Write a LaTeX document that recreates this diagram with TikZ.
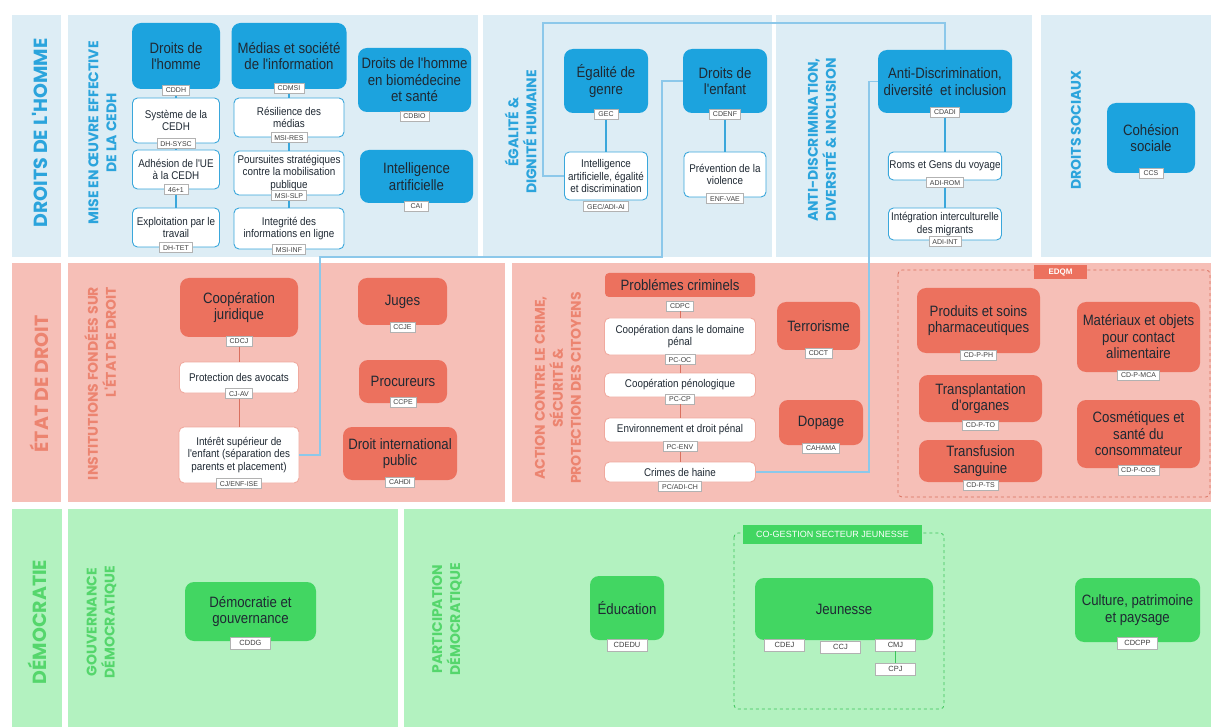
\documentclass[tikz,border=0pt]{standalone}
\usepackage{fontspec}
\setmainfont{Liberation Sans}
\newfontfamily\narrowfont{Liberation Sans}[FakeStretch=0.88]
\newfontfamily\headfont{Poppins}
\usepackage{xcolor}
\usepackage{tikz}
\usetikzlibrary{positioning}
\definecolor{blubg}{HTML}{DDEDF5}
\definecolor{blubox}{HTML}{1CA3DE}
\definecolor{bluline}{HTML}{3AA7DB}
\definecolor{blulong}{HTML}{8CC8EA}
\definecolor{blutxt}{HTML}{2BA4DC}
\definecolor{redbg}{HTML}{F6BFB7}
\definecolor{redbox}{HTML}{EC715E}
\definecolor{redline}{HTML}{D9705F}
\definecolor{redpale}{HTML}{F0A99E}
\definecolor{redtxt}{HTML}{EC8470}
\definecolor{grnbg}{HTML}{B3F2C0}
\definecolor{grnbox}{HTML}{42D662}
\definecolor{grnline}{HTML}{3CC45A}
\definecolor{grntxt}{HTML}{55D66C}
\definecolor{boxtxt}{HTML}{1F2933}
\begin{document}
\begin{tikzpicture}
  [x=1pt,y=-1pt,
   every node/.style={align=center,inner sep=1pt},
   wh/.style 2 args={minimum width=#1pt,minimum height=#2pt},
   bigbox/.style={rounded corners=9pt,fill=#1,text=boxtxt,font=\narrowfont\fontsize{15}{16.5}\selectfont},
   bbox/.style={bigbox=blubox},
   rbox/.style={bigbox=redbox},
   gbox/.style={bigbox=grnbox},
   wbox/.style={rounded corners=5pt,fill=white,draw=#1,line width=.9pt,text=boxtxt,font=\narrowfont\fontsize{11.2}{12.3}\selectfont},
   tag/.style={fill=white,draw=black!30,line width=.4pt,text=black!75,font=\fontsize{7}{8}\selectfont,minimum width=24pt,minimum height=10pt,inner xsep=3.5pt,inner ysep=0pt},
   gtag/.style={tag,minimum width=40pt,minimum height=12pt,font=\fontsize{7.5}{8}\selectfont},
   banner/.style={fill=#1,text=white,font=\fontsize{9}{10}\selectfont},
   sec/.style={rotate=90,text=#1,font=\headfont\bfseries\fontsize{19}{22}\selectfont},
   subsec/.style={rotate=90,text=#1,font=\headfont\bfseries\fontsize{14}{18}\selectfont},
   link/.style={draw=#1,line width=1.6pt},
   longlink/.style={draw=blulong,line width=1.3pt},
   zone/.style={draw=#1,dashed,line width=.8pt,rounded corners=4pt}]
  \useasboundingbox (0,0) rectangle (1213,727);
  \foreach \xa/\xb in {12/61,68/478,483/772,776/1032,1041/1211}
    \fill[blubg] (\xa,15) rectangle (\xb,257);
  \foreach \xa/\xb in {12/61,68/505,512/1211}
    \fill[redbg] (\xa,263) rectangle (\xb,502);
  \foreach \xa/\xb in {12/62,68/398,404/1211}
    \fill[grnbg] (\xa,509) rectangle (\xb,727);

  \node[sec=blutxt] (hdh) at (40,133) {DROITS DE L'HOMME};
  \node[subsec=blutxt] (hcedh) at (102.5,133) {MISE EN ŒUVRE EFFECTIVE\\DE LA CEDH};
  \node[subsec=blutxt] (hegal) at (520.5,132) {ÉGALITÉ \&\\DIGNITÉ HUMAINE};
  \node[subsec=blutxt] (hadi) at (822,140) {ANTI-DISCRIMINATION,\\DIVERSITÉ \& INCLUSION};
  \node[subsec=blutxt] (hsoc) at (1076,130) {DROITS SOCIAUX};
  \node[sec=redtxt] (hetat) at (39,384) {ÉTAT DE DROIT};
  \node[subsec=redtxt,align=right] (hinst) at (100,383.5) {INSTITUTIONS FONDÉES SUR\\L'ÉTAT DE DROIT};
  \node[subsec=redtxt] (hcrime) at (558,388) {ACTION CONTRE LE CRIME,\\SÉCURITÉ \&\\PROTECTION DES CITOYENS};
  \node[sec=grntxt] (hdemo) at (37,622) {DÉMOCRATIE};
  \node[subsec=grntxt] (hgouv) at (101.5,622) {GOUVERNANCE\\DÉMOCRATIQUE};
  \node[subsec=grntxt] (hpart) at (447,619) {PARTICIPATION\\DÉMOCRATIQUE};

  \node[bbox,wh={88}{66}] (cddh) at (176,56) {Droits de\\l'homme};
  \node[tag,below=-4pt of cddh] (tcddh) {CDDH};
  \node[wbox=bluline,wh={87}{45}] (dhsysc) at (176,120.5) {Système de la\\CEDH};
  \node[tag,below=-5pt of dhsysc] (tdhsysc) {DH-SYSC};
  \node[wbox=bluline,wh={87}{39}] (dh46) at (176,169.5) {Adhésion de l'UE\\à la CEDH};
  \node[tag,below=-5pt of dh46] (tdh46) {46+1};
  \node[wbox=bluline,wh={87}{39}] (dhtet) at (176,227.5) {Exploitation par le\\travail};
  \node[tag,below=-5pt of dhtet] (tdhtet) {DH-TET};

  \node[bbox,wh={115}{66}] (cdmsi) at (289,56) {Médias et société\\de l'information};
  \node[tag,below=-6pt of cdmsi] (tcdmsi) {CDMSI};
  \node[wbox=bluline,wh={110}{39}] (msires) at (289,117.5) {Résilience des\\médias};
  \node[tag,below=-5pt of msires] (tmsires) {MSI-RES};
  \node[wbox=bluline,wh={110}{44}] (msislp) at (289,173) {Poursuites stratégiques\\contre la mobilisation\\publique};
  \node[tag,below=-5pt of msislp] (tmsislp) {MSI-SLP};
  \node[wbox=bluline,wh={110}{41}] (msiinf) at (289,228.5) {Integrité des\\informations en ligne};
  \node[tag,below=-5pt of msiinf] (tmsiinf) {MSI-INF};

  \node[bbox,wh={113}{64}] (cdbio) at (414.5,80) {Droits de l'homme\\en biomédecine\\et santé};
  \node[tag,below=-1pt of cdbio] (tcdbio) {CDBIO};
  \node[bbox,wh={113}{53}] (cai) at (416.5,176.5) {Intelligence\\artificielle};
  \node[tag,below=-2pt of cai] (tcai) {CAI};

  \node[bbox,wh={84}{64}] (gec) at (606,81) {Égalité de\\genre};
  \node[tag,below=-4pt of gec] (tgec) {GEC};
  \node[bbox,wh={84}{64}] (cdenf) at (725,81) {Droits de\\l'enfant};
  \node[tag,below=-4pt of cdenf] (tcdenf) {CDENF};
  \node[wbox=bluline,wh={83}{48}] (gecai) at (606,176) {Intelligence\\artificielle, égalité\\et discrimination};
  \node[tag,below=1pt of gecai] (tgecai) {GEC/ADI-AI};
  \node[wbox=bluline,wh={82}{45}] (cdvae) at (725,174.5) {Prévention de la\\violence};
  \node[tag,below=-4pt of cdvae] (tcdvae) {ENF-VAE};

  \node[bbox,wh={134}{63}] (cdadi) at (945,81.5) {Anti-Discrimination,\\diversité\ \ et inclusion};
  \node[tag,below=-6pt of cdadi] (tcdadi) {CDADI};
  \node[wbox=bluline,wh={113}{28}] (adirom) at (945,166) {Roms et Gens du voyage};
  \node[tag,below=-3pt of adirom] (tadirom) {ADI-ROM};
  \node[wbox=bluline,wh={113}{32}] (adiint) at (945,224) {Intégration interculturelle\\des migrants};
  \node[tag,below=-4pt of adiint] (tadiint) {ADI-INT};

  \node[bbox,wh={88}{70}] (ccs) at (1151,138) {Cohésion\\sociale};
  \node[tag,below=-5pt of ccs] (tccs) {CCS};

  \node[rbox,wh={118}{59}] (cdcj) at (239,307.5) {Coopération\\juridique};
  \node[tag,below=-1pt of cdcj] (tcdcj) {CDCJ};
  \node[wbox=redpale,wh={119}{31}] (cjav) at (239,377.5) {Protection des avocats};
  \node[tag,below=-5pt of cjav] (tcjav) {CJ-AV};
  \node[wbox=redpale,wh={120}{56}] (cjise) at (239,455) {Intérêt supérieur de\\l'enfant (séparation des\\parents et placement)};
  \node[tag,below=-5pt of cjise] (tcjise) {CJ/ENF-ISE};

  \node[rbox,wh={89}{47}] (ccje) at (402.5,301.5) {Juges};
  \node[tag,below=-3pt of ccje] (tccje) {CCJE};
  \node[rbox,wh={88}{43}] (ccpe) at (403,381.5) {Procureurs};
  \node[tag,below=-6pt of ccpe] (tccpe) {CCPE};
  \node[rbox,wh={114}{53}] (cahdi) at (400,453.5) {Droit international\\public};
  \node[tag,below=-3pt of cahdi] (tcahdi) {CAHDI};

  \node[rbox,rounded corners=4pt,wh={150}{24}] (cdpc) at (680,285) {Problémes criminels};
  \node[tag,below=3.5pt of cdpc] (tcdpc) {CDPC};
  \node[wbox=redpale,wh={151}{37}] (pcoc) at (680,336.5) {Coopération dans le domaine\\pénal};
  \node[tag,below=-1pt of pcoc] (tpcoc) {PC-OC};
  \node[wbox=redpale,wh={151}{24}] (pccp) at (680,385) {Coopération pénologique};
  \node[tag,below=-3.5pt of pccp] (tpccp) {PC-CP};
  \node[wbox=redpale,wh={151}{24}] (pcenv) at (680,430) {Environnement et droit pénal};
  \node[tag,below=-1pt of pcenv] (tpcenv) {PC-ENV};
  \node[wbox=redpale,wh={151}{20}] (pchaine) at (680,472) {Crimes de haine};
  \node[tag,below=-1pt of pchaine] (tpchaine) {PC/ADI-CH};

  \node[rbox,wh={83}{48}] (cdct) at (818.5,326) {Terrorisme};
  \node[tag,below=-2.5pt of cdct] (tcdct) {CDCT};
  \node[rbox,wh={84}{45}] (cahama) at (821,422.5) {Dopage};
  \node[tag,below=-2.5pt of cahama] (tcahama) {CAHAMA};

  \draw[zone=redline] (898,270) rectangle (1210,497);
  \node[banner=redbox,wh={53}{14},font=\bfseries\fontsize{8}{9}\selectfont] (edqm) at (1060.5,272) {EDQM};
  \node[rbox,wh={123}{65}] (cdpph) at (978.5,320.5) {Produits et soins\\pharmaceutiques};
  \node[tag,below=-3pt of cdpph] (tcdpph) {CD-P-PH};
  \node[rbox,wh={123}{47}] (cdpto) at (980.5,398.5) {Transplantation\\d'organes};
  \node[tag,below=-2pt of cdpto] (tcdpto) {CD-P-TO};
  \node[rbox,wh={123}{42}] (cdpts) at (980.5,461) {Transfusion\\sanguine};
  \node[tag,below=-2pt of cdpts] (tcdpts) {CD-P-TS};
  \node[rbox,wh={123}{70}] (cdpmca) at (1138.5,337) {Matériaux et objets\\pour contact\\alimentaire};
  \node[tag,below=-2pt of cdpmca] (tcdpmca) {CD-P-MCA};
  \node[rbox,wh={123}{68}] (cdpcos) at (1138.5,434) {Cosmétiques et\\santé du\\consommateur};
  \node[tag,below=-3pt of cdpcos] (tcdpcos) {CD-P-COS};

  \node[gbox,wh={131}{59}] (cddg) at (250.5,611.5) {Démocratie et\\gouvernance};
  \node[gtag,below=-4pt of cddg] (tcddg) {CDDG};
  \node[gbox,wh={74}{64}] (cdedu) at (627,608) {Éducation};
  \node[gtag,below=-1pt of cdedu] (tcdedu) {CDEDU};

  \draw[zone=grnline] (734,533) rectangle (944,709);
  \node[banner=grnbox,wh={179}{19}] (cogest) at (832.5,534.5) {CO-GESTION SECTEUR JEUNESSE};
  \node[gbox,wh={178}{62}] (jeunesse) at (844,609) {Jeunesse};
  \node[gtag] (tcdej) at (784.5,645) {CDEJ};
  \node[gtag] (tccj) at (840.5,647) {CCJ};
  \node[gtag] (tcmj) at (895.5,645) {CMJ};
  \node[gtag,below=12pt of tcmj] (tcpj) {CPJ};

  \node[gbox,wh={125}{64}] (cdcpp) at (1137.5,610) {Culture, patrimoine\\et paysage};
  \node[gtag,below=-5pt of cdcpp] (tcdcpp) {CDCPP};

  \foreach \from/\to in {tcddh/dhsysc,tdhsysc/dh46,tdh46/dhtet,tcdmsi/msires,tmsires/msislp,tmsislp/msiinf,tgec/gecai,tcdenf/cdvae,tcdadi/adirom,tadirom/adiint}
    \draw[link=bluline] (\from) -- (\to);
  \foreach \from/\to in {tcdcj/cjav,tcjav/cjise,tcdpc/pcoc,tpcoc/pccp,tpccp/pcenv,tpcenv/pchaine}
    \draw[link=redline,line width=1pt] (\from) -- (\to);
  \draw[link=grnline,line width=1pt] (tcmj) -- (tcpj);

  \draw[longlink] (gecai.west) -| (543,23) -| (cdadi.north);
  \draw[longlink] (cdenf.west) -| (662,257) -| (320,300) |- (cjise.east);
  \draw[longlink] (cdadi.west) -| (869,300) |- (pchaine.east);
\end{tikzpicture}
\end{document}
